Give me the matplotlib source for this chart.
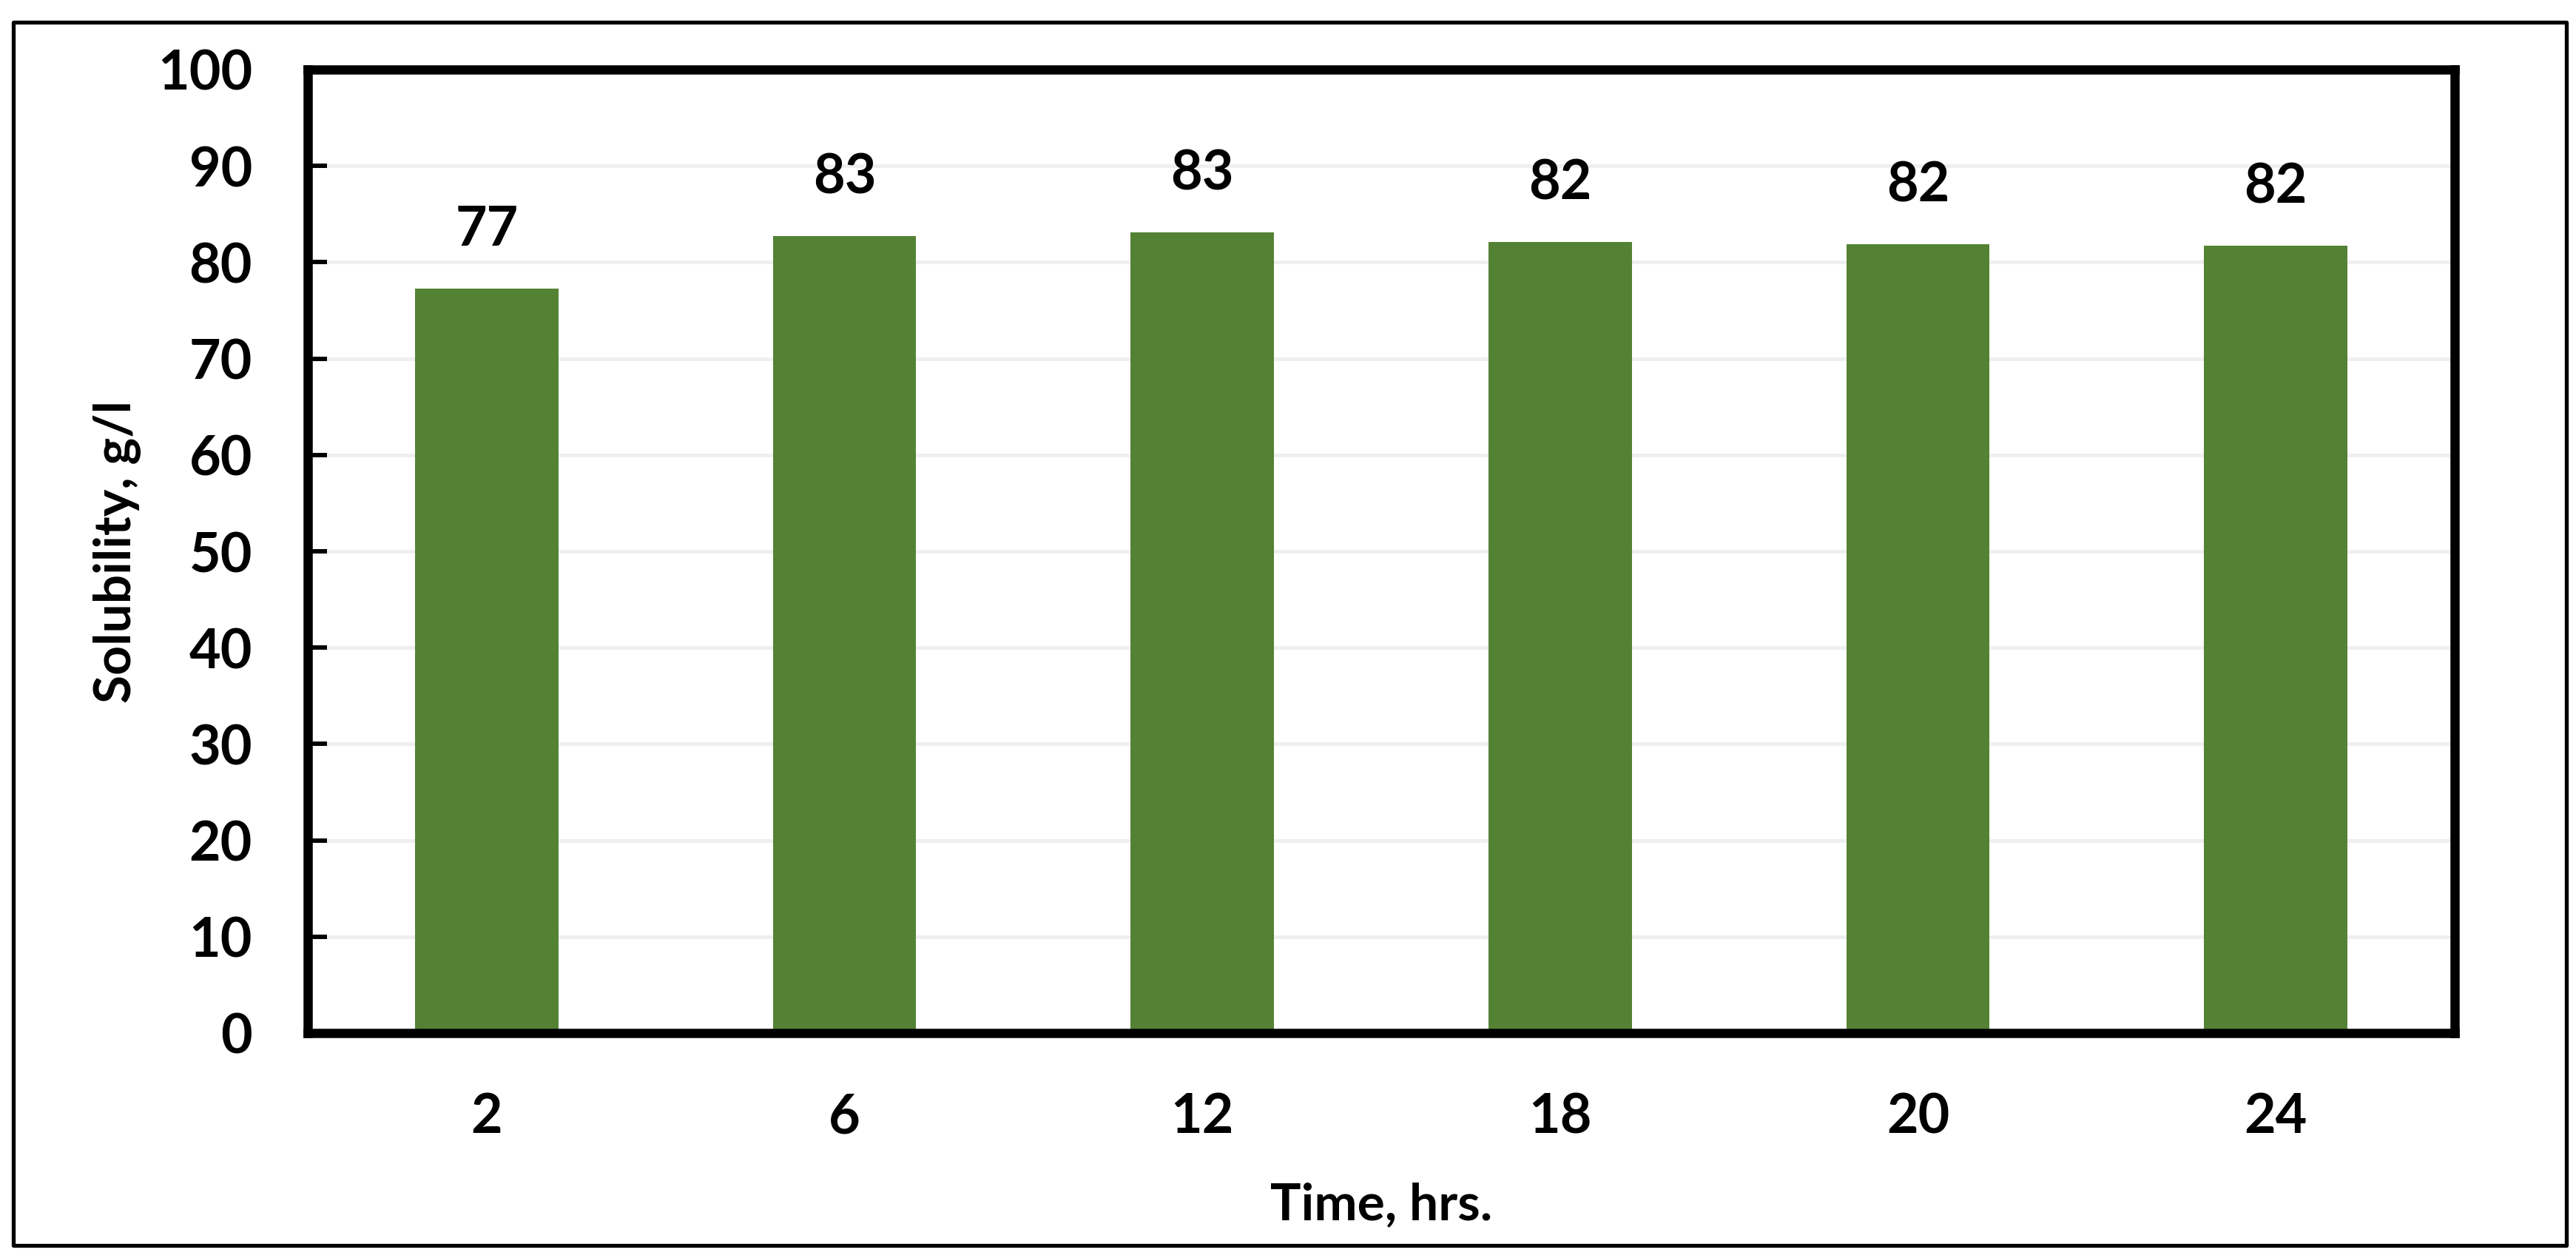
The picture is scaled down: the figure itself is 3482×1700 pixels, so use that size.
import matplotlib
matplotlib.use("Agg")
import matplotlib.pyplot as plt
from matplotlib.patches import Rectangle

# data
times = ["2", "6", "12", "18", "20", "24"]
solubility = [77.3, 82.7, 83.1, 82.1, 81.9, 81.75]
labels = ["77", "83", "83", "82", "82", "82"]

plt.rcParams["font.family"] = ["Lato", "DejaVu Sans"]
plt.rcParams["font.weight"] = "bold"

W, H = 3482, 1700
fig = plt.figure(figsize=(W / 100, H / 100), dpi=100)
# axes box in pixels (spine centres): left 416, right 3318, top 94, bottom 1396
ax = fig.add_axes([416 / W, 1 - 1396 / H, (3318 - 416) / W, (1396 - 94) / H])

x = range(len(times))
ax.bar(x, solubility, width=0.4, color="#548235", zorder=2)
for xi, v, lab in zip(x, solubility, labels):
    ax.text(xi, v + 4.4, lab, ha="center", va="baseline", fontsize=53, fontweight="bold")

ax.set_xlim(-0.5, len(times) - 0.5)
ax.set_ylim(0, 100)
ax.set_yticks(range(0, 101, 10))
ax.set_xticks(list(x))
ax.set_xticklabels(times)
ax.yaxis.grid(True, color="#efefef", lw=3.6, zorder=0)
ax.set_axisbelow(True)
ax.tick_params(axis="y", direction="in", length=19, width=4.3, pad=54, labelsize=53)
ax.tick_params(axis="x", length=0, pad=57, labelsize=53)
for s in ax.spines.values():
    s.set_linewidth(9)
    s.set_zorder(3)
    s.set_capstyle("projecting")

ax.set_ylabel("Solubility, g/l", fontsize=50, fontweight="bold", va="center")
ax.yaxis.set_label_coords(-0.0889, 0.5)
ax.set_xlabel("Time, hrs.", fontsize=50, fontweight="bold", va="center")
ax.xaxis.set_label_coords(0.5, -0.179)

# thin outer border around the whole chart
fig.patches.append(Rectangle((18 / W, 17 / H), (3469 - 18) / W, (1683 - 30) / H,
                             transform=fig.transFigure, fill=False,
                             lw=3.8, edgecolor="black", joinstyle="round"))

fig.savefig("out.png", dpi=100)
